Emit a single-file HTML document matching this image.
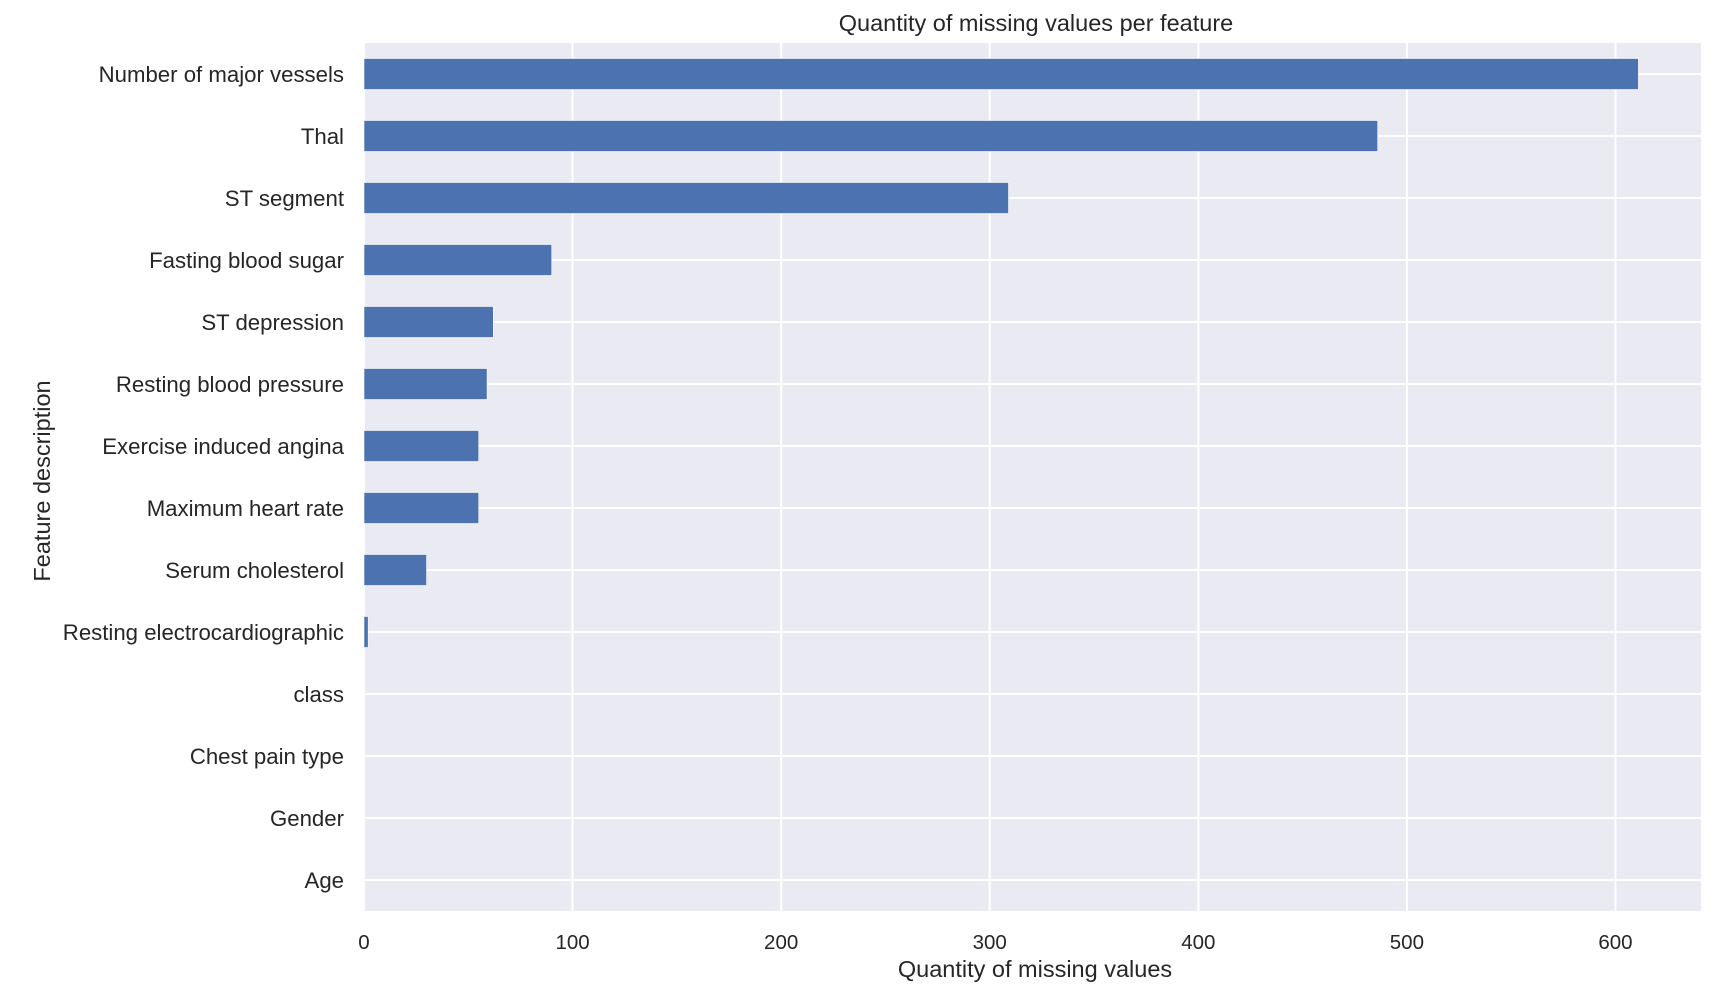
<!DOCTYPE html>
<html><head><meta charset="utf-8"><style>
html,body{margin:0;padding:0;background:#fff;}
svg text{font-family:"Liberation Sans",Arial,sans-serif;fill:#262626;}
</style></head><body>
<svg id="chart" width="1724" height="1002" viewBox="0 0 1724 1002" xmlns="http://www.w3.org/2000/svg">
<rect x="364" y="43" width="1337" height="868" fill="#eaeaf2"/>
<g id="grid"></g>
<g id="bars"></g>
<g id="yticks"></g>
<g id="xticks"></g>
<text x="1036" y="31" font-size="23.5" text-anchor="middle" fill="#333">Quantity of missing values per feature</text>
<text x="1035" y="977" font-size="23.5" text-anchor="middle" fill="#333">Quantity of missing values</text>
<text x="0" y="0" font-size="23.5" text-anchor="middle" fill="#333" transform="translate(50,481) rotate(-90)">Feature description</text>
</svg>
<script>
const categories = ["Number of major vessels","Thal","ST segment","Fasting blood sugar","ST depression","Resting blood pressure","Exercise induced angina","Maximum heart rate","Serum cholesterol","Resting electrocardiographic","class","Chest pain type","Gender","Age"];
const values = [611,486,309,90,62,59,55,55,30,2,0,0,0,0];
const xTicks = [0,100,200,300,400,500,600];

const NS = "http://www.w3.org/2000/svg";
const plotL = 364, plotR = 1701, plotT = 43, plotB = 911, xMax = 641;
const step = (plotB - plotT) / categories.length;
function xScale(v){ return plotL + v / xMax * (plotR - plotL); }
function yScale(i){ return plotT + step * (i + 0.5); }
function mk(tag, attrs){ const e = document.createElementNS(NS, tag); for (const k in attrs) e.setAttribute(k, attrs[k]); return e; }

const grid = document.getElementById('grid');
const bars = document.getElementById('bars');
const yt = document.getElementById('yticks');
const xt = document.getElementById('xticks');

xTicks.forEach(t => {
  const x = xScale(t);
  const l = mk('line', {x1:x, x2:x, y1:plotT, y2:plotB, stroke:'#fff', 'stroke-width':2});
  
  
  grid.appendChild(l);
  const tx = mk('text', {x:x, y:949, 'font-size':20.5, 'text-anchor':'middle', fill:'#333'});
  tx.textContent = t;
  
  
  xt.appendChild(tx);
});
categories.forEach((c, i) => {
  const y = yScale(i);
  const l = mk('line', {x1:plotL, x2:plotR, y1:y, y2:y, stroke:'#fff', 'stroke-width':2});
  
  
  grid.appendChild(l);
  const h = step * 0.5;
  const w = xScale(values[i]) - plotL;
  if (values[i] > 0) {
    const r = mk('rect', {x:plotL, y:y - h/2, width:Math.max(w,1.5), height:h, fill:'#4c72b0', stroke:'#fff', 'stroke-width':0.6});
    
    
    bars.appendChild(r);
  }
  const tx = mk('text', {x:344, y:y + 8, 'font-size':22.2, 'text-anchor':'end', fill:'#333'});
  tx.textContent = c;
  
  
  yt.appendChild(tx);
});
</script>
</body></html>
